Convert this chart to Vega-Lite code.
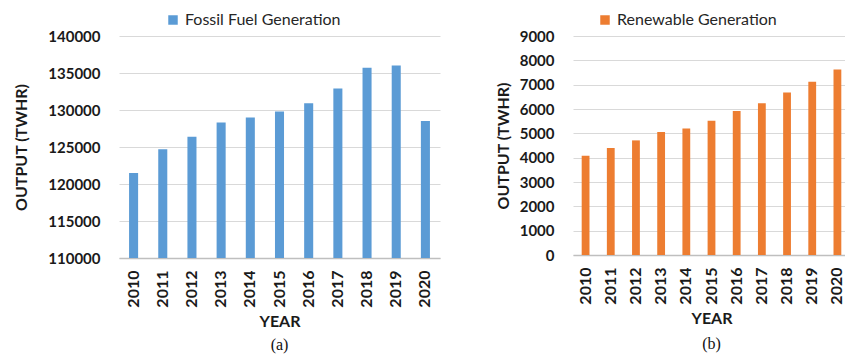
{
  "$schema": "https://vega.github.io/schema/vega-lite/v6.json",
  "background": "white",
  "padding": {"left": 13, "top": 12, "right": 0, "bottom": 0},
  "spacing": 55,
  "resolve": {"scale": {"color": "independent", "x": "independent", "y": "independent"}, "legend": {"color": "independent"}},
  "config": {
    "font": "Lato",
    "view": {"stroke": null},
    "axis": {
      "labelFont": "Lato",
      "labelFontWeight": "bold",
      "labelColor": "#1a1a1a",
      "titleFont": "Lato",
      "titleFontWeight": "bold",
      "titleColor": "#1a1a1a",
      "titleFontSize": 16,
      "ticks": false,
      "tickSize": 0,
      "gridColor": "#d9d9d9",
      "gridWidth": 1
    },
    "axisY": {"domain": false, "grid": true, "labelFontSize": 15, "labelPadding": 19},
    "axisX": {"domain": true, "domainColor": "#bfbfbf", "domainWidth": 1.5, "grid": false, "labelFontSize": 16, "labelAngle": -90, "labelPadding": 12, "titlePadding": 6},
    "legend": {"symbolType": "square", "symbolSize": 90, "symbolStrokeWidth": 0, "labelFont": "Lato", "labelFontSize": 16, "labelColor": "#262626", "labelLimit": 400, "padding": 0, "direction": "horizontal"},
    "title": {"font": "Liberation Serif", "fontSize": 16, "fontWeight": "normal", "color": "#111111"}
  },
  "hconcat": [
    {
      "width": 321,
      "height": 222,
      "title": {"text": "(a)", "orient": "bottom", "anchor": "middle", "offset": 8},
      "data": {"values": [
        {"year": "2010", "output": 121500, "series": "Fossil Fuel Generation"},
        {"year": "2011", "output": 124700, "series": "Fossil Fuel Generation"},
        {"year": "2012", "output": 126400, "series": "Fossil Fuel Generation"},
        {"year": "2013", "output": 128300, "series": "Fossil Fuel Generation"},
        {"year": "2014", "output": 129000, "series": "Fossil Fuel Generation"},
        {"year": "2015", "output": 129800, "series": "Fossil Fuel Generation"},
        {"year": "2016", "output": 130900, "series": "Fossil Fuel Generation"},
        {"year": "2017", "output": 132900, "series": "Fossil Fuel Generation"},
        {"year": "2018", "output": 135700, "series": "Fossil Fuel Generation"},
        {"year": "2019", "output": 136000, "series": "Fossil Fuel Generation"},
        {"year": "2020", "output": 128500, "series": "Fossil Fuel Generation"}
      ]},
      "mark": {"type": "bar", "clip": true},
      "encoding": {
        "x": {"field": "year", "type": "ordinal", "title": "YEAR", "scale": {"paddingInner": 0.69, "paddingOuter": 0.345}},
        "y": {"field": "output", "type": "quantitative", "title": "OUTPUT (TWHR)",
          "scale": {"domain": [110000, 140000], "zero": false, "nice": false},
          "axis": {"values": [110000, 115000, 120000, 125000, 130000, 135000, 140000], "format": "d", "titlePadding": 18}},
        "color": {"field": "series", "type": "nominal", "scale": {"range": ["#5b9bd5"]},
          "legend": {"orient": "none", "legendX": 46, "legendY": -24, "title": null}}
      }
    },
    {
      "width": 277,
      "height": 219,
      "title": {"text": "(b)", "orient": "bottom", "anchor": "middle", "offset": 10},
      "data": {"values": [
        {"year": "2010", "output": 4080, "series": "Renewable Generation"},
        {"year": "2011", "output": 4400, "series": "Renewable Generation"},
        {"year": "2012", "output": 4710, "series": "Renewable Generation"},
        {"year": "2013", "output": 5050, "series": "Renewable Generation"},
        {"year": "2014", "output": 5200, "series": "Renewable Generation"},
        {"year": "2015", "output": 5520, "series": "Renewable Generation"},
        {"year": "2016", "output": 5920, "series": "Renewable Generation"},
        {"year": "2017", "output": 6240, "series": "Renewable Generation"},
        {"year": "2018", "output": 6680, "series": "Renewable Generation"},
        {"year": "2019", "output": 7120, "series": "Renewable Generation"},
        {"year": "2020", "output": 7620, "series": "Renewable Generation"}
      ]},
      "mark": {"type": "bar"},
      "encoding": {
        "x": {"field": "year", "type": "ordinal", "title": "YEAR", "scale": {"paddingInner": 0.69, "paddingOuter": 0.345}},
        "y": {"field": "output", "type": "quantitative", "title": "OUTPUT (TWHR)",
          "scale": {"domain": [0, 9000], "nice": false},
          "axis": {"values": [0, 1000, 2000, 3000, 4000, 5000, 6000, 7000, 8000, 9000], "format": "d", "titlePadding": 8}},
        "color": {"field": "series", "type": "nominal", "scale": {"range": ["#ed7d31"]},
          "legend": {"orient": "none", "legendX": 24, "legendY": -24, "title": null}}
      }
    }
  ]
}
